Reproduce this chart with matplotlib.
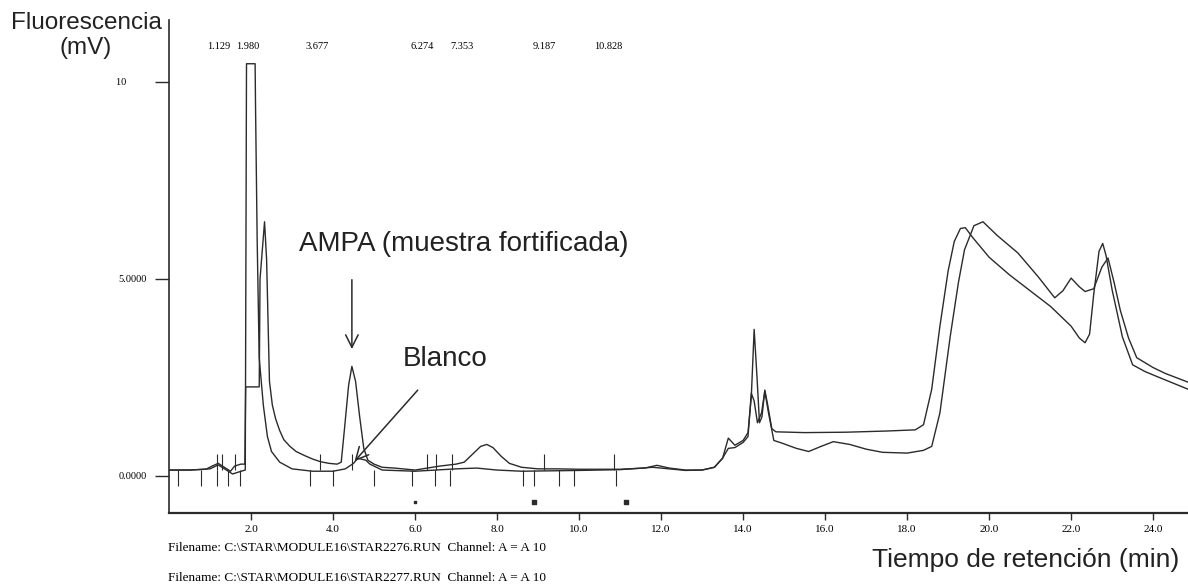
import numpy as np
import matplotlib
matplotlib.use("Agg")
import matplotlib.pyplot as plt

# %% data (time in min, signal in mV)
t_muestra = [0.0, 0.5, 0.9, 1.05, 1.2, 1.35, 1.5, 1.6, 1.75, 1.85, 1.87, 2.20, 2.22, 2.33, 2.38,
             2.45, 2.52, 2.6, 2.7, 2.8, 2.95, 3.1, 3.3, 3.5, 3.7, 3.9, 4.1, 4.2, 4.28, 4.38,
             4.46, 4.55, 4.65, 4.75, 4.85, 5.0, 5.2, 5.5, 6.0, 6.3, 6.6, 7.0, 7.2, 7.4, 7.6,
             7.75, 7.9, 8.1, 8.3, 8.6, 9.0, 9.5, 10.0, 11.0, 11.6, 11.9, 12.2, 12.6, 13.0,
             13.3, 13.5, 13.64, 13.8, 14.0, 14.12, 14.2, 14.27, 14.34, 14.4, 14.46, 14.53,
             14.6, 14.7, 14.8, 15.5, 16.5, 17.5, 18.2, 18.4, 18.6, 18.8, 19.0, 19.15, 19.3,
             19.42, 19.6, 20.0, 20.5, 21.0, 21.5, 22.0, 22.2, 22.34, 22.45, 22.55, 22.68,
             22.77, 22.85, 23.0, 23.25, 23.5, 23.8, 24.1, 24.5, 24.9]
v_muestra = [0.15, 0.15, 0.17, 0.25, 0.32, 0.22, 0.12, 0.25, 0.3, 0.3, 2.26, 2.26, 5.0, 6.45, 5.5,
             2.4, 1.8, 1.45, 1.15, 0.92, 0.75, 0.62, 0.52, 0.43, 0.36, 0.32, 0.30, 0.35, 1.2, 2.3,
             2.78, 2.4, 1.5, 0.7, 0.4, 0.3, 0.22, 0.2, 0.15, 0.2, 0.25, 0.3, 0.35, 0.55, 0.75,
             0.80, 0.72, 0.5, 0.32, 0.22, 0.18, 0.18, 0.17, 0.17, 0.2, 0.27, 0.2, 0.15, 0.15,
             0.22, 0.45, 0.96, 0.78, 0.9, 1.1, 2.0, 3.72, 2.5, 1.35, 1.5, 2.18,
             1.8, 1.2, 1.12, 1.10, 1.11, 1.14, 1.17, 1.3, 2.2, 3.8, 5.2, 5.95, 6.28,
             6.3, 6.05, 5.55, 5.1, 4.7, 4.3, 3.8, 3.5, 3.38, 3.6, 4.6, 5.7,
             5.9, 5.6, 4.72, 3.53, 2.82, 2.65, 2.52, 2.35, 2.18]

t_blanco = [0.0, 0.5, 1.0, 1.2, 1.4, 1.55, 1.7, 1.86, 1.89, 2.10, 2.11, 2.15, 2.2, 2.3, 2.4,
            2.5, 2.7, 3.0, 3.5, 4.0, 4.3, 4.5, 4.6, 4.8, 4.9, 5.2, 6.0, 7.0, 7.5, 8.0, 8.6,
            10.0, 11.0, 11.8, 12.0, 12.6, 13.0, 13.3, 13.5, 13.64, 13.8, 14.0, 14.12, 14.2,
            14.27, 14.35, 14.45, 14.53, 14.62, 14.75, 14.93, 15.3, 15.6, 15.9, 16.2, 16.6,
            17.0, 17.4, 18.0, 18.4, 18.6, 18.8, 19.05, 19.25, 19.4, 19.63, 19.85, 20.2,
            20.7, 21.2, 21.6, 21.8, 22.0, 22.2, 22.34, 22.55, 22.75, 22.9, 23.05, 23.2,
            23.4, 23.6, 24.0, 24.3, 24.9]
v_blanco = [0.15, 0.15, 0.18, 0.28, 0.15, 0.05, 0.1, 0.15, 10.46, 10.46, 9.4, 6.0, 3.0, 1.8, 1.0,
            0.62, 0.35, 0.18, 0.12, 0.12, 0.18, 0.32, 0.45, 0.4, 0.3, 0.15, 0.12, 0.18, 0.2, 0.15, 0.12,
            0.14, 0.16, 0.22, 0.2, 0.14, 0.15, 0.22, 0.45, 0.7, 0.72, 0.85, 1.0, 2.1,
            1.9, 1.35, 1.6, 2.15, 1.6, 0.9, 0.84, 0.7, 0.62, 0.75, 0.87, 0.8,
            0.68, 0.6, 0.58, 0.65, 0.75, 1.6, 3.53, 4.9, 5.74, 6.35, 6.45, 6.1,
            5.66, 5.05, 4.52, 4.7, 5.02, 4.8, 4.68, 4.75, 5.3, 5.53, 4.9, 4.2,
            3.5, 3.0, 2.75, 2.6, 2.36]

# integration event marks
marcas_arriba = [1.18, 1.3, 1.6, 3.69, 4.47, 6.3, 6.5, 6.9, 9.14, 10.85]
marcas_abajo = [0.23, 0.77, 1.17, 1.45, 1.73, 3.45, 4.01, 4.99, 5.92, 6.48, 6.86,
                8.63, 8.91, 9.52, 9.88, 10.9]
puntos_t = [6.0, 8.9, 11.15]
puntos_tam = [3, 6, 8]

# retention times printed at the top, and where they sit
tr_labels = ["1.129", "1.980", "3.677", "6.274", "7.353", "9.187", "10.828"]
tr_pos = [1.21, 1.93, 3.62, 6.17, 7.15, 9.15, 10.72]

xticks = [2, 4, 6, 8, 10, 12, 14, 16, 18, 20, 22, 24]
yticks = [0, 5, 10]
ytick_labels = ["0.0000", "5.0000", "10        "]

archivos = [r"Filename: C:\STAR\MODULE16\STAR2276.RUN  Channel: A = A 10",
            r"Filename: C:\STAR\MODULE16\STAR2277.RUN  Channel: A = A 10"]

# %%
W, H = 1188, 586
fig = plt.figure(figsize=(W / 100, H / 100), dpi=100)
ax = fig.add_axes([169 / W, 1 - 513 / H, 1 - 169 / W, (513 - 20) / H])

col = "#2b2b2b"
ax.plot(t_muestra, v_muestra, color=col, lw=1.0)
ax.plot(t_blanco, v_blanco, color=col, lw=1.0)

ax.vlines(marcas_arriba, 0.15, 0.55, color=col, lw=0.8)
ax.vlines(marcas_abajo, -0.25, 0.15, color=col, lw=0.8)
ax.scatter(puntos_t, [-0.66] * len(puntos_t), s=puntos_tam, color=col, marker="s")

ax.set_xlim(0, 24.85)
ax.set_ylim(-0.94, 11.57)
for s in ["top", "right"]:
    ax.spines[s].set_visible(False)
ax.spines["left"].set_color(col)
ax.spines["bottom"].set_color(col)
ax.spines["left"].set_linewidth(1.2)
ax.spines["bottom"].set_linewidth(1.6)

serif = "Liberation Serif"
ax.set_xticks(xticks)
ax.set_xticklabels([f"{x:.1f}" for x in xticks], family=serif, fontsize=8)
ax.set_yticks(yticks)
ax.set_yticklabels(ytick_labels, family=serif, fontsize=7.5)
ax.tick_params(axis="x", length=5, width=1, color=col, pad=4)
ax.tick_params(axis="y", length=10, width=1, color=col, pad=6)

for lab, p in zip(tr_labels, tr_pos):
    ax.text(p, 10.9, lab, family=serif, fontsize=7.5, ha="center", va="center")

# annotations
sans = "Liberation Sans"
ax.text(3.18, 5.7, "AMPA (muestra fortificada)", family=sans, fontsize=20, color="#222222")
ax.text(5.7, 2.78, "Blanco", family=sans, fontsize=20, color="#222222")
ax.annotate("", xy=(4.46, 3.15), xytext=(4.46, 5.05),
            arrowprops=dict(arrowstyle="->,head_length=0.9,head_width=0.45", color=col, lw=1.1))
ax.annotate("", xy=(4.48, 0.32), xytext=(6.11, 2.23),
            arrowprops=dict(arrowstyle="->,head_length=0.9,head_width=0.45", color=col, lw=1.1))

fig.text(86 / W, 1 - 12 / H, "Fluorescencia\n(mV)", family=sans, fontsize=17.5,
         ha="center", va="top", color="#222222")
fig.text(872 / W, 1 - 560 / H, "Tiempo de retención (min)", family=sans, fontsize=19,
         ha="left", va="center", color="#222222")
fig.text(168 / W, 1 - 548 / H, archivos[0], family=serif, fontsize=9.5, va="center")
fig.text(168 / W, 1 - 578 / H, archivos[1], family=serif, fontsize=9.5, va="center")

fig.savefig("out.png", dpi=100)
